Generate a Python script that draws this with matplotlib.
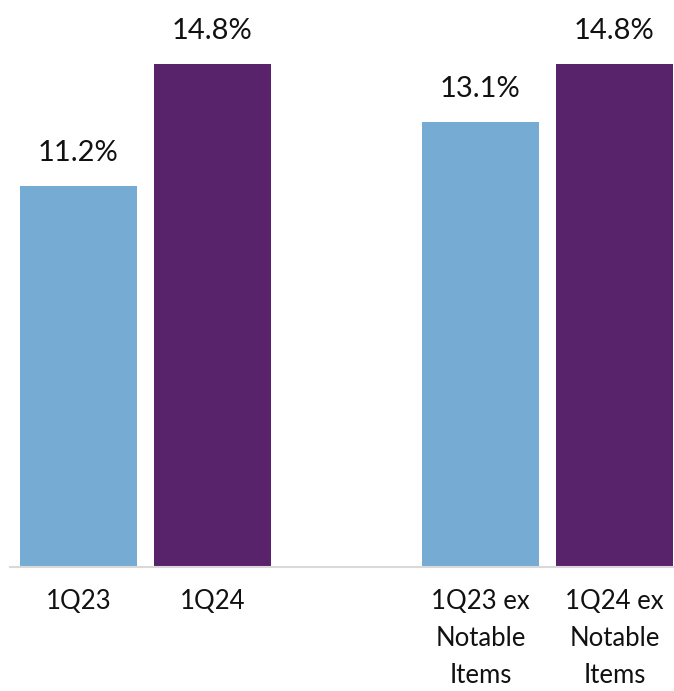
import matplotlib
matplotlib.use("Agg")
import matplotlib.pyplot as plt

categories = ["1Q23", "1Q24", "1Q23 ex\nNotable\nItems", "1Q24 ex\nNotable\nItems"]
positions = [0, 1, 3, 4]
values = [11.2, 14.8, 13.1, 14.8]
labels = ["11.2%", "14.8%", "13.1%", "14.8%"]
colors = ["#76acd4", "#58236b", "#76acd4", "#58236b"]

plt.rcParams['font.family'] = ['Lato', 'DejaVu Sans']

fig = plt.figure(figsize=(6.74, 6.91), dpi=100)
ax = fig.add_axes([0.0148, 0.1795, 0.9852, 0.8205])

ax.bar(positions, values, width=0.873, color=colors)
for x, v, lab in zip(positions, values, labels):
    ax.annotate(lab, (x, v), xytext=(0, 18), textcoords="offset points",
                ha="center", va="baseline", fontsize=21, color="#111111")

ax.set_xlim(-0.511, 4.444)
ax.set_ylim(0, 16.68)
ax.set_xticks(positions)
ax.set_xticklabels(categories, fontsize=18.5, linespacing=1.6, color="#111111")
ax.tick_params(axis="x", length=0, pad=16)
ax.set_yticks([])
for s in ["top", "right", "left"]:
    ax.spines[s].set_visible(False)
ax.spines["bottom"].set_color("#d9d9d9")
ax.spines["bottom"].set_linewidth(1.5)

fig.savefig("out.png", dpi=100)
